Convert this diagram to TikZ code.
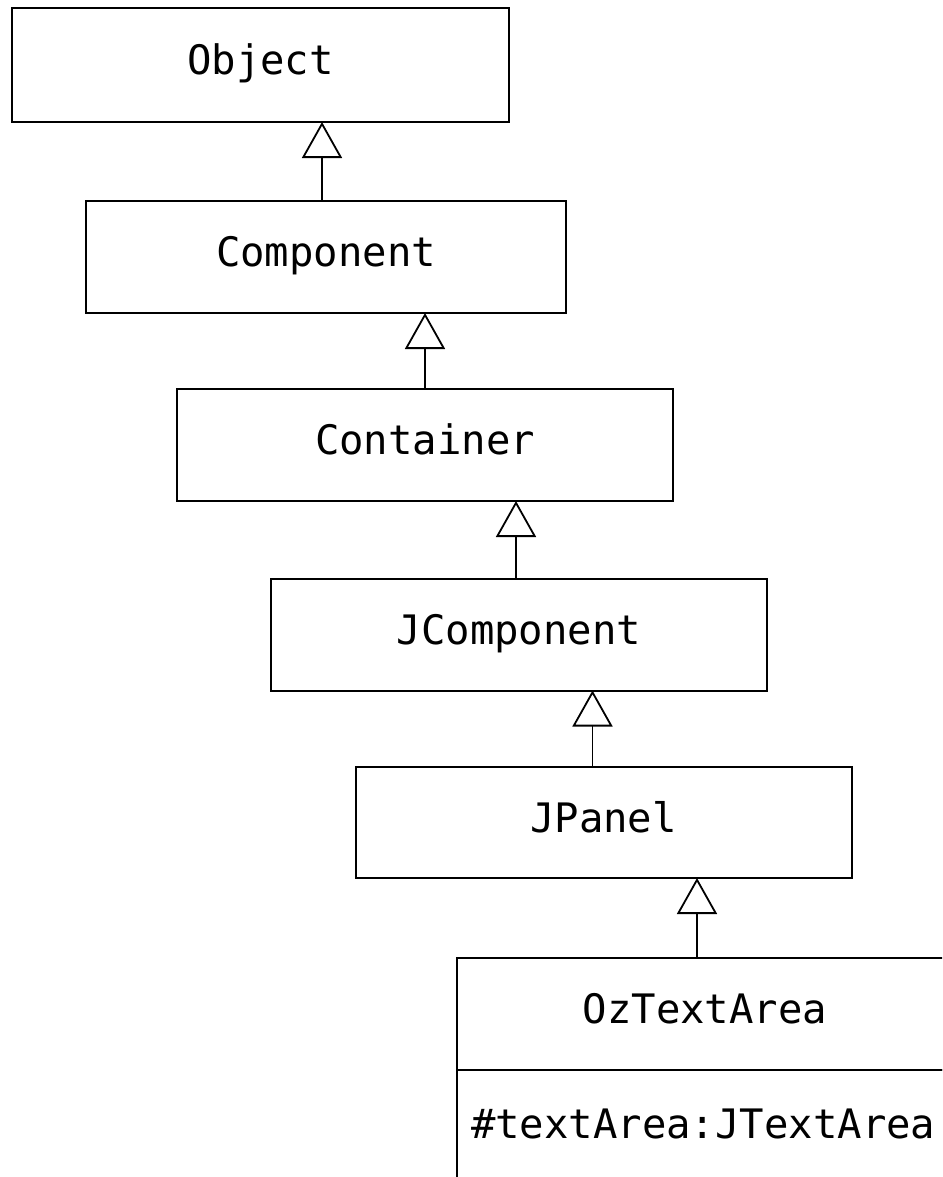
\documentclass[tikz,border=0pt]{standalone}
\usepackage{fontspec}
\setmonofont{DejaVu Sans Mono}
\usetikzlibrary{arrows.meta,positioning}
\tikzset{
  classbox/.style={
    draw=black,
    line width=1pt,
    outer sep=0pt,
    minimum width=248pt,
    minimum height=56pt,
    text height=1.15em,
    text depth=0.16em,
    font=\ttfamily\fontsize{20.3pt}{24pt}\selectfont
  },
  attrbox/.style={
    draw=black,
    line width=1pt,
    outer sep=0pt,
    inner xsep=7pt,
    inner ysep=4pt,
    text width=234pt,
    align=left,
    text height=30pt,
    text depth=40pt,
    font=\ttfamily\fontsize{20.3pt}{24pt}\selectfont
  },
  inherit/.style={
    -{Triangle[open,length=18pt,width=20pt]},
    line width=0.9pt
  }
}
\begin{document}
\begin{tikzpicture}[x=0.5pt,y=-0.5pt]
\useasboundingbox (0,0) rectangle (942,1177);
\clip (0,0) rectangle (942,1177);
\node[classbox, minimum width=248.5pt, minimum height=57pt] (object) at (260.5,65) {Object};
\node[classbox, minimum width=240pt] (component) at (326,257) {Component};
\node[classbox] (container) at (425,445) {Container};
\node[classbox] (jcomponent) at (519,634.5) {JComponent};
\node[classbox, minimum height=55.5pt] (jpanel) at (603.5,822.5) {JPanel};
\node[classbox] (oztext) at (705,1014) {OzTextArea};
\node[attrbox, below=0pt of oztext] (ozattr) {\#textArea:JTextArea};
\draw[inherit] ([xshift=-2pt]component.north) -- ([xshift=-2pt]component.north |- object.south);
\draw[inherit] (container.north) -- (container.north |- component.south);
\draw[inherit] ([xshift=-1.5pt]jcomponent.north) -- ([xshift=-1.5pt]jcomponent.north |- container.south);
\draw[inherit] ([xshift=-5.5pt]jpanel.north) -- ([xshift=-5.5pt]jpanel.north |- jcomponent.south);
\draw[inherit] ([xshift=-4pt]oztext.north) -- ([xshift=-4pt]oztext.north |- jpanel.south);
\end{tikzpicture}
\end{document}
